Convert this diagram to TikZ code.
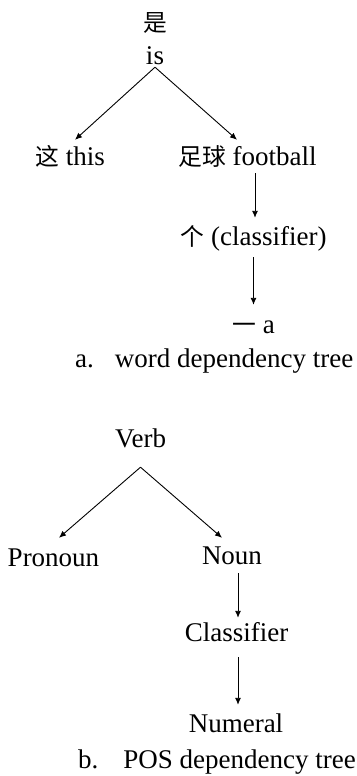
\documentclass[tikz,border=0pt]{standalone}
\usepackage{fontspec}
\setmainfont{Liberation Serif}
\newfontfamily\cjk[Scale=0.88]{Noto Sans CJK SC}
\usepackage{tikz}
\usetikzlibrary{arrows.meta, positioning}
\tikzstyle{word} = [inner sep = 0pt, anchor = base, text height = 19pt, text depth = 0pt, font = \fontsize{27}{30}\selectfont]
\tikzstyle{caption} = [inner sep = 0pt, anchor = base west, font = \fontsize{27}{30}\selectfont]
\tikzstyle{dep} = [draw, line width = 0.9pt, -{Latex[length = 7pt, width = 6pt]}]

\begin{document}
\begin{tikzpicture}[x = 1pt, y = -1pt]
			\useasboundingbox (0, 0) rectangle (356, 776);
			% a. word dependency tree
			\node [word] (shi) at (155, 32) {\cjk 是};
			\node [word] (is) at (155, 65) {is};
			\node [word] (this) at (70, 165) {{\cjk 这} this};
			\node [word] (football) at (247.5, 165) {{\cjk 足球} football};
			\node [word] (ge) at (253.5, 245) {{\cjk 个} (classifier)};
			\node [word] (yi) at (253.5, 333) {{\cjk 一} a};
			\node [caption] (capa) at (75, 367) {a.\hspace{21pt}word dependency tree};
			
			\path [dep] ([yshift = -2pt]is.south) -- ([xshift = 5pt, yshift = 6pt]this.north);
			\path [dep] ([yshift = -2pt]is.south) -- ([xshift = -10.5pt, yshift = 6pt]football.north);
			\path [dep] ([xshift = 7.5pt, yshift = -8pt]football.south) -- ([xshift = 7.5pt, yshift = 8pt]football.south |- ge.north);
			\path [dep] ([yshift = -12pt]ge.south) -- ([yshift = 9pt]yi.north);
			
			% b. POS dependency tree
			\node [word] (verb) at (140.5, 447) {Verb};
			\node [word] (pronoun) at (53.5, 566) {Pronoun};
			\node [word] (noun) at (232, 564) {Noun};
			\node [word] (classifier) at (236.5, 641) {Classifier};
			\node [word] (numeral) at (236, 732) {Numeral};
			\node [caption] (capb) at (78, 768) {b.\hspace{25pt}POS dependency tree};
			
			\path [dep] ([yshift = -20pt]verb.south) -- ([xshift = 5.5pt, yshift = 9pt]pronoun.north);
			\path [dep] ([yshift = -20pt]verb.south) -- ([xshift = -10pt, yshift = 7pt]noun.north);
			\path [dep] ([xshift = 6pt, yshift = -9pt]noun.south) -- ([xshift = 6pt, yshift = 4pt]noun.south |- classifier.north);
			\path [dep] ([xshift = 1.5pt, yshift = -16pt]classifier.south) -- ([xshift = 1.5pt, yshift = 8pt]classifier.south |- numeral.north);
		\end{tikzpicture}
\end{document}
